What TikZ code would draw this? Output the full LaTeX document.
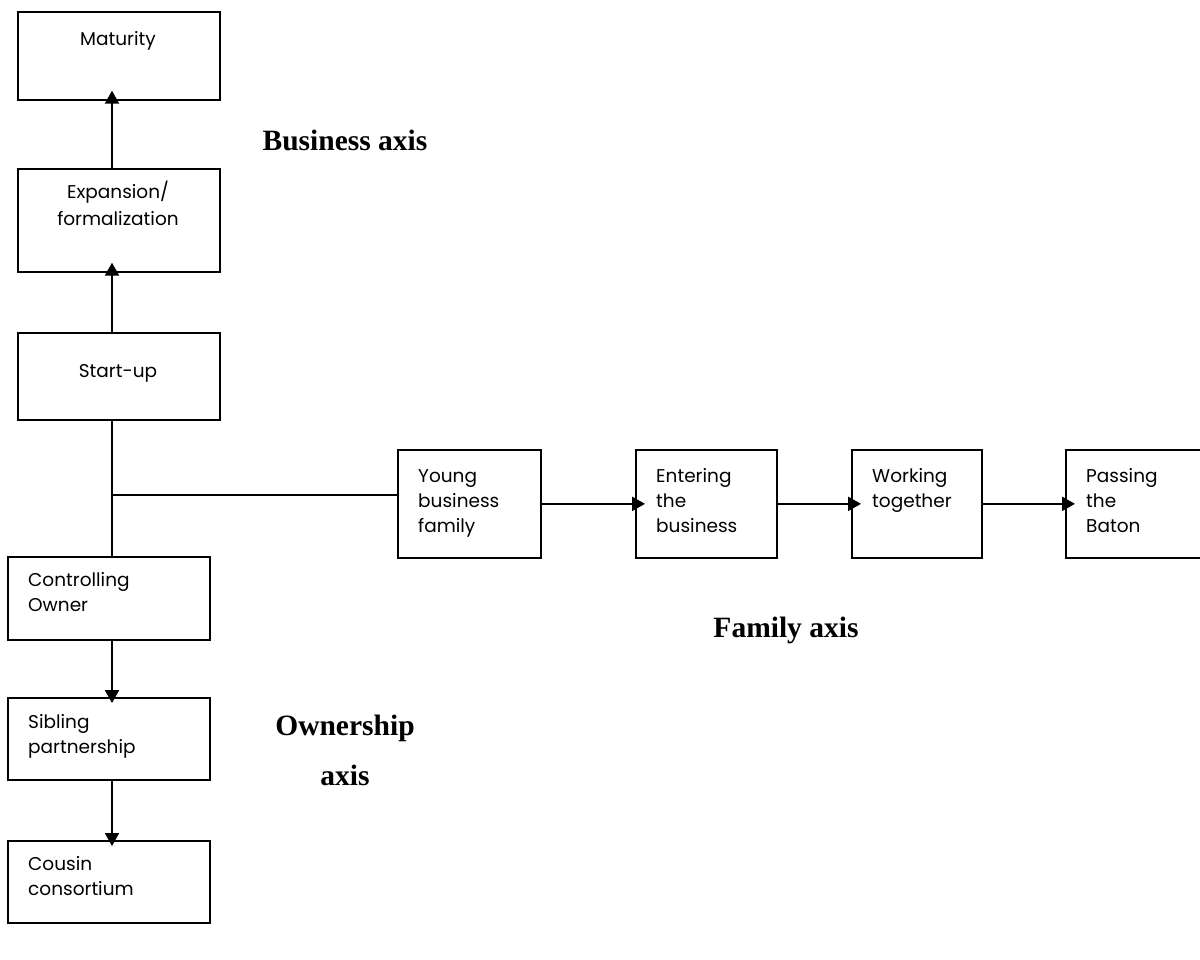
\documentclass[tikz,border=0pt]{standalone}
\usepackage{fontspec}
\setmainfont{Liberation Serif}
\newfontfamily\boxfont{Poppins}
\usetikzlibrary{arrows.meta}

\begin{document}
\begin{tikzpicture}[x=1pt,y=-1pt,
    stage/.style={draw, line width=1.7pt, anchor=north west, inner sep=0pt},
    stagetext/.style={inner sep=0pt, align=left, anchor=base west,
        font=\boxfont\fontsize{18.5}{25}\selectfont},
    axistext/.style={inner sep=0pt, align=center, anchor=base,
        font=\bfseries\fontsize{29.5}{50}\selectfont},
    flow/.style={line width=2.3pt, -{Triangle[length=13pt,width=14pt]}, shorten >=-10pt},
    link/.style={line width=1.4pt}]

    % Fix the page to the size of the picture
    \useasboundingbox (0,0) rectangle (1200,959);

    % Business axis: three stages going up
    \node[stage, minimum width=202pt, minimum height=88pt] (M) at (17,11) {};
    \node[stage, minimum width=202pt, minimum height=103pt] (E) at (17,168) {};
    \node[stage, minimum width=202pt, minimum height=87pt] (S) at (17,332) {};

    % Ownership axis: three stages going down
    \node[stage, minimum width=202pt, minimum height=83pt] (CO) at (7,556) {};
    \node[stage, minimum width=202pt, minimum height=82pt] (SP) at (7,697) {};
    \node[stage, minimum width=202pt, minimum height=82pt] (CC) at (7,840) {};

    % Family axis: four stages going right
    \node[stage, minimum width=143pt, minimum height=108pt] (YB) at (397,449) {};
    \node[stage, minimum width=141pt, minimum height=108pt] (EB) at (635,449) {};
    \node[stage, minimum width=130pt, minimum height=108pt] (WT) at (851,449) {};
    \node[stage, minimum width=150pt, minimum height=108pt] (PB) at (1065,449) {};

    % Texts of the stages (placed on the baseline of their last line)
    \node[stagetext, anchor=base, align=center] (Mt) at (118,45) {Maturity};
    \node[stagetext, anchor=base, align=center,
        font=\boxfont\fontsize{18.5}{27}\selectfont] (Et) at (118,225) {Expansion/\\formalization};
    \node[stagetext, anchor=base, align=center] (St) at (118,377) {Start-up};
    \node[stagetext] (COt) at (28,611) {Controlling\\Owner};
    \node[stagetext] (SPt) at (28,753) {Sibling\\partnership};
    \node[stagetext] (CCt) at (28,895) {Cousin\\consortium};
    \node[stagetext] (YBt) at (418,532) {Young\\business\\family};
    \node[stagetext] (EBt) at (656,532) {Entering\\the\\business};
    \node[stagetext] (WTt) at (872,507) {Working\\together};
    \node[stagetext] (PBt) at (1086,532) {Passing\\the\\Baton};

    % The point where the three axes meet
    \coordinate (O) at (112,495);

    % Lines out of the meeting point
    \draw[link] (O |- S.south) -- (O |- CO.north);
    \draw[link] (O) -- (O -| YB.west);

    % Arrows along the business axis
    \draw[flow] (O |- S.north) -- (O |- E.south);
    \draw[flow] (O |- E.north) -- (O |- M.south);

    % Arrows along the ownership axis
    \draw[flow, shorten >=-6pt] (O |- CO.south) -- (O |- SP.north);
    \draw[flow, shorten >=-6pt] (O |- SP.south) -- (O |- CC.north);

    % Arrows along the family axis
    \draw[flow] (YB.east) -- (EB.west);
    \draw[flow] (EB.east) -- (WT.west);
    \draw[flow] (WT.east) -- (PB.west);

    % Names of the axes
    \node[axistext] (BA) at (345,150) {Business axis};
    \node[axistext] (FA) at (786,637) {Family axis};
    \node[axistext] (OA) at (345,785) {Ownership\\axis};

\end{tikzpicture}
\end{document}
